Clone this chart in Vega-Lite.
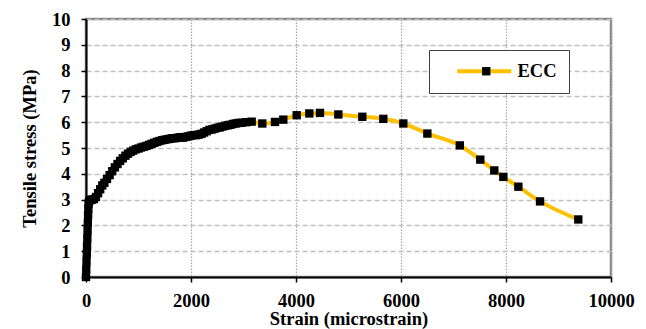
{
  "$schema": "https://vega.github.io/schema/vega-lite/v6.json",
  "autosize": "none",
  "width": 525,
  "height": 258,
  "padding": {"left": 86, "top": 19, "right": 35, "bottom": 52},
  "background": "white",
  "config": {
    "view": {"stroke": "#878787", "strokeWidth": 2.5},
    "font": "Times New Roman, Liberation Serif, serif"
  },
  "data": {
    "values": [
      {"strain": 0, "stress": 0, "series": "ECC"},
      {"strain": 5, "stress": 0.3, "series": "ECC"},
      {"strain": 10, "stress": 0.6, "series": "ECC"},
      {"strain": 15, "stress": 0.9, "series": "ECC"},
      {"strain": 20, "stress": 1.2, "series": "ECC"},
      {"strain": 25, "stress": 1.5, "series": "ECC"},
      {"strain": 30, "stress": 1.8, "series": "ECC"},
      {"strain": 35, "stress": 2.1, "series": "ECC"},
      {"strain": 40, "stress": 2.4, "series": "ECC"},
      {"strain": 45, "stress": 2.65, "series": "ECC"},
      {"strain": 50, "stress": 2.85, "series": "ECC"},
      {"strain": 60, "stress": 2.95, "series": "ECC"},
      {"strain": 80, "stress": 2.98, "series": "ECC"},
      {"strain": 110, "stress": 3.0, "series": "ECC"},
      {"strain": 150, "stress": 3.02, "series": "ECC"},
      {"strain": 190, "stress": 3.1, "series": "ECC"},
      {"strain": 230, "stress": 3.25, "series": "ECC"},
      {"strain": 270, "stress": 3.4, "series": "ECC"},
      {"strain": 310, "stress": 3.55, "series": "ECC"},
      {"strain": 350, "stress": 3.65, "series": "ECC"},
      {"strain": 400, "stress": 3.8, "series": "ECC"},
      {"strain": 450, "stress": 3.95, "series": "ECC"},
      {"strain": 500, "stress": 4.1, "series": "ECC"},
      {"strain": 550, "stress": 4.25, "series": "ECC"},
      {"strain": 600, "stress": 4.38, "series": "ECC"},
      {"strain": 650, "stress": 4.5, "series": "ECC"},
      {"strain": 700, "stress": 4.6, "series": "ECC"},
      {"strain": 750, "stress": 4.7, "series": "ECC"},
      {"strain": 800, "stress": 4.78, "series": "ECC"},
      {"strain": 850, "stress": 4.85, "series": "ECC"},
      {"strain": 900, "stress": 4.9, "series": "ECC"},
      {"strain": 950, "stress": 4.95, "series": "ECC"},
      {"strain": 1000, "stress": 4.98, "series": "ECC"},
      {"strain": 1050, "stress": 5.02, "series": "ECC"},
      {"strain": 1100, "stress": 5.05, "series": "ECC"},
      {"strain": 1150, "stress": 5.08, "series": "ECC"},
      {"strain": 1200, "stress": 5.12, "series": "ECC"},
      {"strain": 1250, "stress": 5.16, "series": "ECC"},
      {"strain": 1300, "stress": 5.2, "series": "ECC"},
      {"strain": 1350, "stress": 5.24, "series": "ECC"},
      {"strain": 1400, "stress": 5.27, "series": "ECC"},
      {"strain": 1450, "stress": 5.3, "series": "ECC"},
      {"strain": 1500, "stress": 5.32, "series": "ECC"},
      {"strain": 1550, "stress": 5.34, "series": "ECC"},
      {"strain": 1600, "stress": 5.36, "series": "ECC"},
      {"strain": 1650, "stress": 5.38, "series": "ECC"},
      {"strain": 1700, "stress": 5.38, "series": "ECC"},
      {"strain": 1750, "stress": 5.4, "series": "ECC"},
      {"strain": 1800, "stress": 5.42, "series": "ECC"},
      {"strain": 1850, "stress": 5.4, "series": "ECC"},
      {"strain": 1900, "stress": 5.43, "series": "ECC"},
      {"strain": 1950, "stress": 5.45, "series": "ECC"},
      {"strain": 2000, "stress": 5.48, "series": "ECC"},
      {"strain": 2050, "stress": 5.5, "series": "ECC"},
      {"strain": 2100, "stress": 5.5, "series": "ECC"},
      {"strain": 2150, "stress": 5.52, "series": "ECC"},
      {"strain": 2200, "stress": 5.55, "series": "ECC"},
      {"strain": 2250, "stress": 5.6, "series": "ECC"},
      {"strain": 2300, "stress": 5.65, "series": "ECC"},
      {"strain": 2350, "stress": 5.7, "series": "ECC"},
      {"strain": 2400, "stress": 5.72, "series": "ECC"},
      {"strain": 2450, "stress": 5.75, "series": "ECC"},
      {"strain": 2500, "stress": 5.78, "series": "ECC"},
      {"strain": 2550, "stress": 5.8, "series": "ECC"},
      {"strain": 2600, "stress": 5.83, "series": "ECC"},
      {"strain": 2650, "stress": 5.86, "series": "ECC"},
      {"strain": 2700, "stress": 5.88, "series": "ECC"},
      {"strain": 2750, "stress": 5.9, "series": "ECC"},
      {"strain": 2800, "stress": 5.93, "series": "ECC"},
      {"strain": 2850, "stress": 5.95, "series": "ECC"},
      {"strain": 2900, "stress": 5.97, "series": "ECC"},
      {"strain": 2966, "stress": 5.98, "series": "ECC"},
      {"strain": 3050, "stress": 6.0, "series": "ECC"},
      {"strain": 3156, "stress": 6.02, "series": "ECC"},
      {"strain": 3358, "stress": 5.95, "series": "ECC"},
      {"strain": 3600, "stress": 6.01, "series": "ECC"},
      {"strain": 3758, "stress": 6.1, "series": "ECC"},
      {"strain": 4013, "stress": 6.27, "series": "ECC"},
      {"strain": 4254, "stress": 6.34, "series": "ECC"},
      {"strain": 4457, "stress": 6.36, "series": "ECC"},
      {"strain": 4806, "stress": 6.3, "series": "ECC"},
      {"strain": 5263, "stress": 6.21, "series": "ECC"},
      {"strain": 5663, "stress": 6.13, "series": "ECC"},
      {"strain": 6044, "stress": 5.95, "series": "ECC"},
      {"strain": 6502, "stress": 5.56, "series": "ECC"},
      {"strain": 7120, "stress": 5.1, "series": "ECC"},
      {"strain": 7510, "stress": 4.55, "series": "ECC"},
      {"strain": 7777, "stress": 4.13, "series": "ECC"},
      {"strain": 7949, "stress": 3.88, "series": "ECC"},
      {"strain": 8235, "stress": 3.5, "series": "ECC"},
      {"strain": 8648, "stress": 2.93, "series": "ECC"},
      {"strain": 9377, "stress": 2.23, "series": "ECC"}
    ]
  },
  "encoding": {
    "x": {
      "field": "strain", "type": "quantitative",
      "scale": {"domain": [0, 10000], "nice": false, "zero": false},
      "axis": {
        "title": "Strain (microstrain)",
        "values": [0, 2000, 4000, 6000, 8000, 10000],
        "format": "d",
        "domainColor": "black", "domainWidth": 2,
        "tickColor": "black", "tickWidth": 1.5, "tickSize": 5,
        "labelFont": "Times New Roman, Liberation Serif, serif", "labelFontSize": 18.5, "labelFontWeight": "bold", "labelColor": "black",
        "labelPadding": 9, "labelFlush": false,
        "titleFont": "Times New Roman, Liberation Serif, serif", "titleFontSize": 18.5, "titleFontWeight": "bold", "titleColor": "black",
        "titlePadding": 0,
        "grid": true, "gridColor": "#a6a6a6", "gridDash": [1.5, 1.5], "gridWidth": 1.2
      }
    },
    "y": {
      "field": "stress", "type": "quantitative",
      "scale": {"domain": [0, 10], "nice": false},
      "axis": {
        "title": "Tensile stress (MPa)",
        "values": [0, 1, 2, 3, 4, 5, 6, 7, 8, 9, 10],
        "domainColor": "black", "domainWidth": 2,
        "tickColor": "black", "tickWidth": 1.5, "tickSize": 5,
        "labelFont": "Times New Roman, Liberation Serif, serif", "labelFontSize": 18.5, "labelFontWeight": "bold", "labelColor": "black",
        "labelPadding": 11, "labelFlush": false,
        "titleFont": "Times New Roman, Liberation Serif, serif", "titleFontSize": 18.5, "titleFontWeight": "bold", "titleColor": "black",
        "titlePadding": 12,
        "grid": true, "gridColor": "#bfbfbf", "gridDash": [5, 3], "gridWidth": 1.5
      }
    }
  },
  "layer": [
    {
      "mark": {"type": "line", "interpolate": "monotone", "strokeWidth": 4},
      "encoding": {
        "color": {
          "datum": "ECC", "type": "nominal",
          "scale": {"range": ["#FFC000"]},
          "legend": {
            "title": null, "orient": "none", "legendX": 343, "legendY": 31,
            "symbolType": "M-5.4,0H5.4", "symbolSize": 100, "symbolStrokeWidth": 4, "symbolOffset": 34,
            "padding": 12, "strokeColor": "#404040", "fillColor": "white",
            "labelFont": "Times New Roman, Liberation Serif, serif", "labelFontSize": 18.5, "labelFontWeight": "bold", "labelColor": "black",
            "labelOffset": 24
          }
        }
      }
    },
    {
      "mark": {"type": "point", "shape": "square", "filled": true, "color": "black", "size": 70, "opacity": 1},
      "encoding": {
        "shape": {
          "field": "series", "type": "nominal",
          "scale": {"range": ["square"]},
          "legend": {
            "title": null, "orient": "none", "legendX": 343, "legendY": 31,
            "symbolSize": 70, "symbolOffset": 36, "padding": 12,
            "symbolFillColor": "black", "symbolStrokeColor": "black", "symbolOpacity": 1,
            "labelFont": "Times New Roman, Liberation Serif, serif", "labelFontSize": 18.5, "labelFontWeight": "bold",
            "labelExpr": "''", "labelOffset": 4
          }
        }
      }
    }
  ]
}
